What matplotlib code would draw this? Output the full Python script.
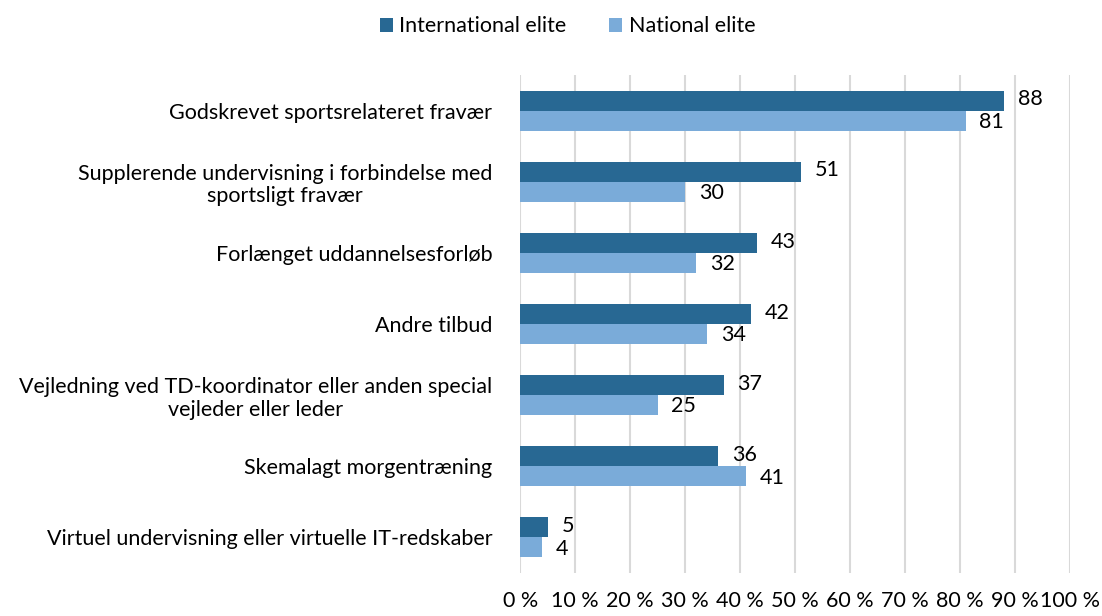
#!/usr/bin/env python3
import numpy as np
import matplotlib
matplotlib.use('Agg')
import matplotlib.pyplot as plt

categories = ['Godskrevet sportsrelateret fravær',
              'Supplerende undervisning i forbindelse med\nsportsligt fravær',
              'Forlænget uddannelsesforløb',
              'Andre tilbud',
              'Vejledning ved TD-koordinator eller anden special\nvejleder eller leder',
              'Skemalagt morgentræning',
              'Virtuel undervisning eller virtuelle IT-redskaber']
international = [88, 51, 43, 42, 37, 36, 5]
national = [81, 30, 32, 34, 25, 41, 4]
xticks = [0, 10, 20, 30, 40, 50, 60, 70, 80, 90, 100]

plt.rcParams['font.family'] = ['Lato', 'DejaVu Sans']
fs = 15.5
plt.rcParams['font.size'] = fs

fig = plt.figure(figsize=(11.02, 6.16), dpi=100)
ax = fig.add_axes([0.472, 0.07, 0.499, 0.808])

y = np.arange(len(categories))
h = 0.28
b1 = ax.barh(y - h/2, international, height=h, color='#286893', label='International elite', zorder=3)
b2 = ax.barh(y + h/2, national, height=h, color='#7aabd9', label='National elite', zorder=3)

for rect, v in zip(b1, international):
    ax.text(v + 2.5, rect.get_y() + rect.get_height()/2 - 0.02, str(v), va='center', ha='left', fontsize=fs)
for rect, v in zip(b2, national):
    ax.text(v + 2.5, rect.get_y() + rect.get_height()/2 + 0.02, str(v), va='center', ha='left', fontsize=fs)

ax.set_xlim(0, 100)
ax.set_ylim(len(categories) - 0.5, -0.5)
ax.set_xticks(xticks)
ax.set_xticklabels(['%d %%' % t for t in xticks])
ax.set_yticks(y)
ax.set_yticklabels(categories, multialignment='center', linespacing=1.15)
ax.tick_params(axis='x', length=0, pad=13)
ax.tick_params(axis='y', length=0, pad=20)
ax.xaxis.grid(True, color='#d9d9d9', linewidth=1.5, zorder=0)
for s in ax.spines.values():
    s.set_visible(False)

fig.legend(handles=[b1, b2], loc='upper center', bbox_to_anchor=(0.515, 1.005), ncol=2,
           frameon=False, handlelength=0.6, handleheight=0.6, handletextpad=0.3,
           columnspacing=2.0, fontsize=fs)

fig.savefig('out.png', dpi=100)
